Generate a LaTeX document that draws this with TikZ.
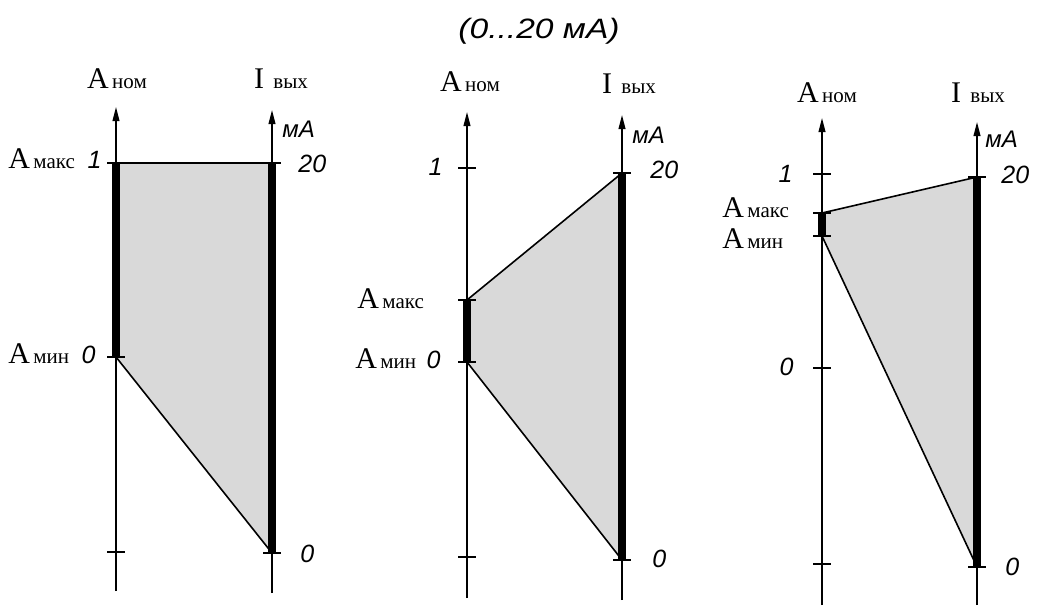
\documentclass[tikz,border=0pt]{standalone}
\usepackage{fontspec}
\setmainfont{Liberation Serif}
\setsansfont{Liberation Sans}
\newfontfamily\titlefont[FakeStretch=1.2]{Liberation Sans}
\usetikzlibrary{arrows.meta}
\tikzset{
  axisline/.style={line width=0.75pt, -{Triangle[length=7pt,width=3.4pt]}},
  rangebar/.style={line width=3.6pt},
  zoneedge/.style={line width=0.8pt},
  tickmark/.style={line width=0.75pt},
  zone/.style={fill=black!15},
  num/.style={font=\sffamily\itshape\fontsize{12.5}{12.5}\selectfont, inner sep=0pt},
  unit/.style={font=\sffamily\itshape\fontsize{12}{12}\selectfont, inner sep=0pt},
  lab/.style={inner sep=0pt},
}
\newcommand{\axlabel}[2]{{\fontsize{15}{15}\selectfont #1}\,{\fontsize{10.5}{10.5}\selectfont #2}}

\begin{document}
\begin{tikzpicture}[x=0.5pt,y=-0.5pt]
\useasboundingbox (0,0) rectangle (1037,605);
\node[anchor=base, font=\titlefont\itshape\fontsize{14}{14}\selectfont] (title) at (539,39) {(0...20 мА)};
% panel 1: whole scale 0...1
\coordinate (a1top) at (116,107);
\coordinate (a1bot) at (116,591);
\coordinate (i1top) at (272,110);
\coordinate (i1bot) at (272,593);
\coordinate (a1max) at (116,163);
\coordinate (a1min) at (116,357);
\coordinate (a1low) at (116,552);
\coordinate (i1max) at (272,163);
\coordinate (i1min) at (272,553);
\fill[zone] (a1max) -- (i1max) -- (i1min) -- (a1min) -- cycle;
\draw[zoneedge] (a1max) -- (i1max);
\draw[zoneedge] (a1min) -- (i1min);
\draw[axisline] (a1bot) -- (a1top);
\draw[axisline] (i1bot) -- (i1top);
\draw[rangebar] (a1max) -- (a1min);
\draw[rangebar] (i1max) -- (i1min);
\foreach \t in {a1max,a1min,a1low,i1max,i1min} \draw[tickmark] (\t) ++(-9,0) -- ++(18,0);
\node[lab, anchor=base] (a1name) at (117,88) {\axlabel{А}{ном}};
\node[lab, anchor=base] (i1name) at (281,88) {\axlabel{I\hspace{3pt}}{вых}};
\node[unit, anchor=base west] (i1unit) at (282,137) {мА};
\node[num, anchor=base west] (i1twenty) at (298,172) {20};
\node[num, anchor=base west] (i1zero) at (300,562) {0};
\node[num, anchor=base east] (a1onelab) at (102,168) {1};
\node[num, anchor=base east] (a1zerolab) at (96,363) {0};
\node[lab, anchor=base west] (a1maxlab) at (8,168) {\axlabel{А}{макс}};
\node[lab, anchor=base west] (a1minlab) at (8,363) {\axlabel{А}{мин}};
% panel 2: range in the lower part
\coordinate (a2top) at (467,112);
\coordinate (a2bot) at (467,598);
\coordinate (i2top) at (622,115);
\coordinate (i2bot) at (622,600);
\coordinate (a2one) at (467,168);
\coordinate (a2max) at (467,300);
\coordinate (a2min) at (467,362);
\coordinate (a2low) at (467,557);
\coordinate (i2max) at (622,173);
\coordinate (i2min) at (622,560);
\fill[zone] (a2max) -- (i2max) -- (i2min) -- (a2min) -- cycle;
\draw[zoneedge] (a2max) -- (i2max);
\draw[zoneedge] (a2min) -- (i2min);
\draw[axisline] (a2bot) -- (a2top);
\draw[axisline] (i2bot) -- (i2top);
\draw[rangebar] (a2max) -- (a2min);
\draw[rangebar] (i2max) -- (i2min);
\foreach \t in {a2one,a2max,a2min,a2low,i2max,i2min} \draw[tickmark] (\t) ++(-9,0) -- ++(18,0);
\node[lab, anchor=base] (a2name) at (470,91) {\axlabel{А}{ном}};
\node[lab, anchor=base] (i2name) at (629,93) {\axlabel{I\hspace{3pt}}{вых}};
\node[unit, anchor=base west] (i2unit) at (632,143) {мА};
\node[num, anchor=base west] (i2twenty) at (650,178) {20};
\node[num, anchor=base west] (i2zero) at (652,567) {0};
\node[num, anchor=base east] (a2onelab) at (443,175) {1};
\node[num, anchor=base east] (a2zerolab) at (441,368) {0};
\node[lab, anchor=base west] (a2maxlab) at (357,308) {\axlabel{А}{макс}};
\node[lab, anchor=base west] (a2minlab) at (355,368) {\axlabel{А}{мин}};
% panel 3: narrow range near the top
\coordinate (a3top) at (822,118);
\coordinate (a3bot) at (822,605);
\coordinate (i3top) at (977,122);
\coordinate (i3bot) at (977,605);
\coordinate (a3one) at (822,174);
\coordinate (a3max) at (822,213);
\coordinate (a3min) at (822,236);
\coordinate (a3zero) at (822,368);
\coordinate (a3low) at (822,564);
\coordinate (i3max) at (977,177);
\coordinate (i3min) at (977,567);
\fill[zone] (a3max) -- (i3max) -- (i3min) -- (a3min) -- cycle;
\draw[zoneedge] (a3max) -- (i3max);
\draw[zoneedge] (a3min) -- (i3min);
\draw[axisline] (a3bot) -- (a3top);
\draw[axisline] (i3bot) -- (i3top);
\draw[rangebar] (a3max) -- (a3min);
\draw[rangebar] (i3max) -- (i3min);
\foreach \t in {a3one,a3max,a3min,a3zero,a3low,i3max,i3min} \draw[tickmark] (\t) ++(-9,0) -- ++(18,0);
\node[lab, anchor=base] (a3name) at (827,102) {\axlabel{А}{ном}};
\node[lab, anchor=base] (i3name) at (978,102) {\axlabel{I\hspace{3pt}}{вых}};
\node[unit, anchor=base west] (i3unit) at (985,147) {мА};
\node[num, anchor=base west] (i3twenty) at (1001,183) {20};
\node[num, anchor=base west] (i3zero) at (1005,575) {0};
\node[num, anchor=base east] (a3onelab) at (793,182) {1};
\node[num, anchor=base east] (a3zerolab) at (794,375) {0};
\node[lab, anchor=base west] (a3maxlab) at (722,217) {\axlabel{А}{макс}};
\node[lab, anchor=base west] (a3minlab) at (722,248) {\axlabel{А}{мин}};
\end{tikzpicture}
\end{document}
